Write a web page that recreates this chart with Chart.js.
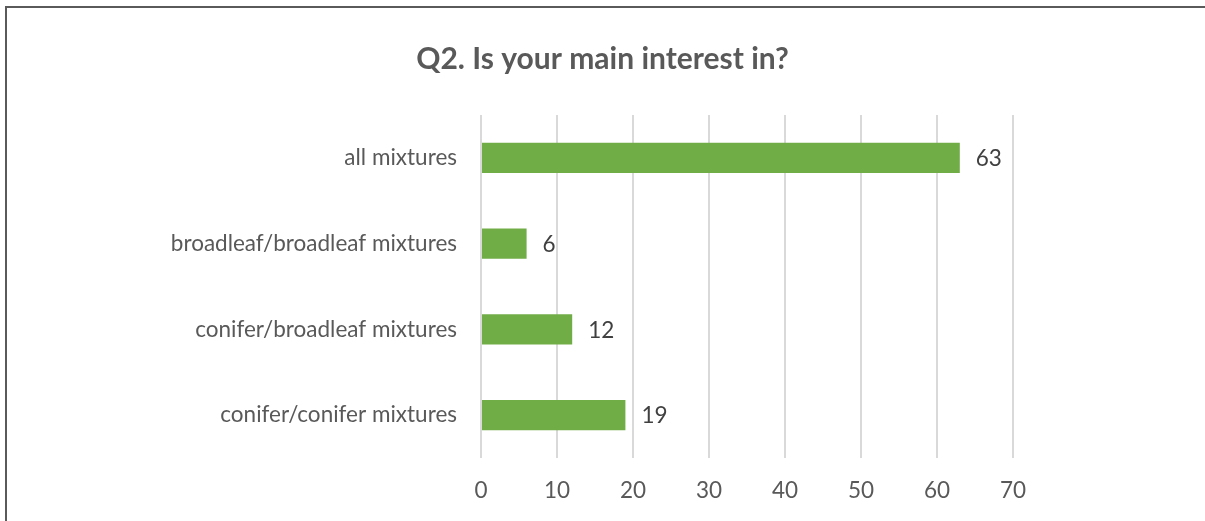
<!DOCTYPE html>
<html>
<head>
<meta charset="utf-8">
<script src="https://cdn.jsdelivr.net/npm/chart.js@4"></script>
<style>
  html, body { margin: 0; padding: 0; background: #ffffff; }
  #wrap { position: relative; width: 1205px; height: 521px; overflow: hidden; }
  #frame { position: absolute; left: 5px; top: 6px; width: 1300px; height: 600px;
           border-top: 2px solid #5a5a5a; border-left: 2px solid #5a5a5a; box-sizing: border-box; }
  canvas { position: absolute; left: 0; top: 0; }
</style>
</head>
<body>
<div id="wrap">
  <div id="frame"></div>
  <canvas id="chart" width="1205" height="521"></canvas>
</div>
<script>
const categories = [
  'all mixtures',
  'broadleaf/broadleaf mixtures',
  'conifer/broadleaf mixtures',
  'conifer/conifer mixtures'
];
const responses = [63, 6, 12, 19];
const axisMin = 0;
const axisMax = 70;
const axisStep = 10;

const FONT = 'Lato, "Open Sans", sans-serif';

// Writes each bar's value just past its end
const valueLabels = {
  id: 'valueLabels',
  afterDatasetsDraw(chart) {
    const ctx = chart.ctx;
    const meta = chart.getDatasetMeta(0);
    ctx.save();
    ctx.font = '22.5px ' + FONT;
    ctx.fillStyle = '#404040';
    ctx.textAlign = 'left';
    ctx.textBaseline = 'middle';
    meta.data.forEach((bar, i) => {
      ctx.fillText(String(chart.data.datasets[0].data[i]), bar.x + 16, bar.y + 1);
    });
    ctx.restore();
  }
};

new Chart(document.getElementById('chart'), {
  type: 'bar',
  data: {
    labels: categories,
    datasets: [{
      data: responses,
      backgroundColor: '#70AD47',
      borderWidth: 0,
      barPercentage: 0.35,
      categoryPercentage: 1
    }]
  },
  plugins: [valueLabels],
  options: {
    indexAxis: 'y',
    responsive: false,
    animation: false,
    layout: { padding: 0 },
    plugins: {
      legend: { display: false },
      tooltip: { enabled: false },
      title: {
        display: true,
        text: 'Q2. Is your main interest in?',
        color: '#595959',
        font: { family: FONT, size: 30, weight: 'bold', lineHeight: 1.2 },
        padding: { top: 41, bottom: 38 }
      }
    },
    scales: {
      x: {
        min: axisMin,
        max: axisMax,
        ticks: {
          stepSize: axisStep,
          color: '#595959',
          font: { family: FONT, size: 22.5 },
          padding: 19
        },
        grid: { color: '#d9d9d9', lineWidth: 2, drawTicks: false },
        border: { display: false },
        afterFit(scale) { scale.height = 63; }
      },
      y: {
        ticks: {
          color: '#595959',
          font: { family: FONT, size: 22.5 },
          padding: 24
        },
        grid: { display: false, drawTicks: false },
        border: { display: false },
        afterFit(scale) { scale.width = 481; }
      },
      // empty right-hand margin so the plot ends at 70 well before the edge
      margin: {
        type: 'category',
        axis: 'y',
        position: 'right',
        ticks: { display: false },
        grid: { display: false, drawTicks: false },
        border: { display: false },
        afterFit(scale) { scale.width = 192; }
      }
    }
  }
});
</script>
</body>
</html>
